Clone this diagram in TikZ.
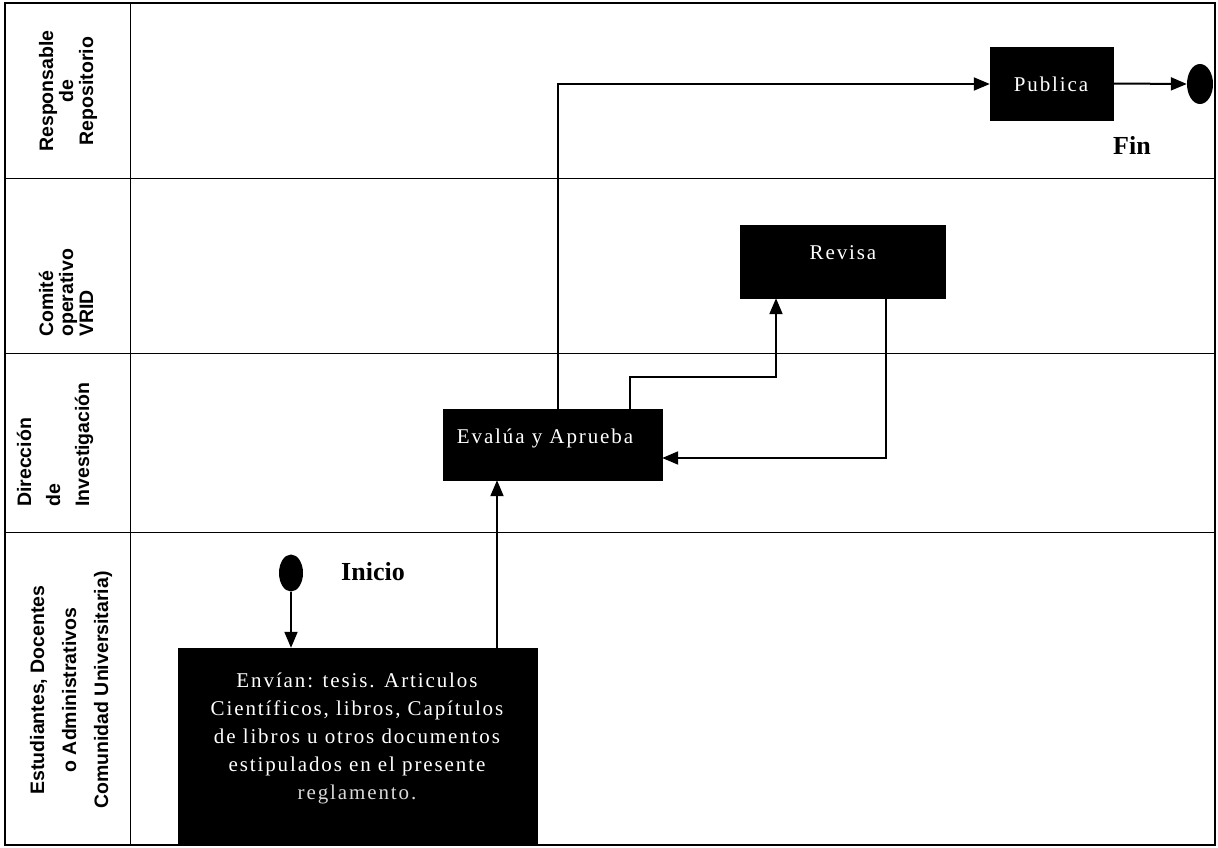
\documentclass[tikz,border=0pt]{standalone}
\usepackage{fontspec}
\setmainfont{Liberation Serif}
\newfontfamily\lanefont{Liberation Sans Bold}
\newfontfamily\boxfont[LetterSpace=9]{Liberation Serif}
\usetikzlibrary{arrows.meta,shapes.geometric}
\begin{document}
\begin{tikzpicture}[x=1pt,y=-1pt,
  frame/.style={line width=1.4pt},
  lane/.style={line width=1pt},
  blackbox/.style={draw=black, fill=black, rectangle, inner sep=0pt},
  boxtext/.style={text=white, font=\boxfont\fontsize{21}{28}\selectfont, align=center, inner sep=0pt},
  lanetext/.style={rotate=90, font=\lanefont\fontsize{19.5}{20}\selectfont, inner sep=0pt},
  flow/.style={line width=2pt, -{Triangle[length=16pt,width=13pt]}},
  endpt/.style={ellipse, fill=black, inner sep=0pt},
  tag/.style={font=\bfseries\fontsize{26}{30}\selectfont, inner sep=0pt}
]
\useasboundingbox (0,0) rectangle (1218,848);

% frame and lanes
\draw[frame] (5,3) rectangle (1215,845);
\draw[lane] (130,3) -- (130,845);
\draw[lane] (5,178) -- (1215,178);
\draw[lane] (5,353) -- (1215,353);
\draw[lane] (5,532) -- (1215,532);

% lane labels
\node[lanetext, align=center] (l1) at (68,91) {Responsable\\de\\Repositorio};
\node[lanetext, align=left, anchor=west] (l2) at (66,337) {Comité\\operativo\\VRID};
\node[lanetext, align=left, anchor=west, font=\lanefont\fontsize{19.5}{29}\selectfont] (l3) at (55,507) {Dirección\\de\\Investigación};
\node[lanetext, align=center, font=\lanefont\fontsize{19.5}{32}\selectfont] (l4) at (71,690) {Estudiantes, Docentes\\o Administrativos\\Comunidad Universitaria)};

% boxes
\node[blackbox, minimum width=123pt, minimum height=73pt] (pub) at (1051.5,83.5) {};
\node[boxtext] (pubt) at (1051,84) {Publica};
\node[blackbox, minimum width=205pt, minimum height=73pt] (rev) at (842.5,261.5) {};
\node[boxtext] (revt) at (843,253) {Revisa};
\node[blackbox, minimum width=219pt, minimum height=71pt] (eva) at (552.5,444.5) {};
\node[boxtext] (evat) at (545,438) {Evalúa y Aprueba};
\node[blackbox, minimum width=359pt, minimum height=197pt] (env) at (357.5,746.5) {};
\node[boxtext] (envt) at (357,738) {Envían: tesis. Articulos\\Científicos, libros, Capítulos\\de libros u otros documentos\\estipulados en el presente\\\textcolor{white!70!gray}{reglamento.}};

% terminals
\node[endpt, minimum width=26pt, minimum height=40pt] (fin) at (1200,84) {};
\node[tag] (fint) at (1132,145) {Fin};
\node[endpt, minimum width=24pt, minimum height=37pt] (ini) at (291,573) {};
\node[tag] (init) at (373,572) {Inicio};

% routing points
\coordinate (xa) at (497,0);
\coordinate (xb) at (630,377);
\coordinate (xc) at (776,377);
\coordinate (xd) at (886,458);
\coordinate (xe) at (558,84);

% connectors
\draw[flow] (ini.south) -- (ini.south |- env.north);
\draw[flow] (env.north -| xa) -- (eva.south -| xa);
\draw[flow] (eva.north -| xb) -- (xb) -- (xc) -- (rev.south -| xc);
\draw[flow] (rev.south -| xd) -- (xd) -- (eva.east |- xd);
\draw[flow] (eva.north -| xe) -- (xe) -- (pub.west |- xe);
\draw[flow] (pub.east) -- (fin.west);
\end{tikzpicture}
\end{document}
